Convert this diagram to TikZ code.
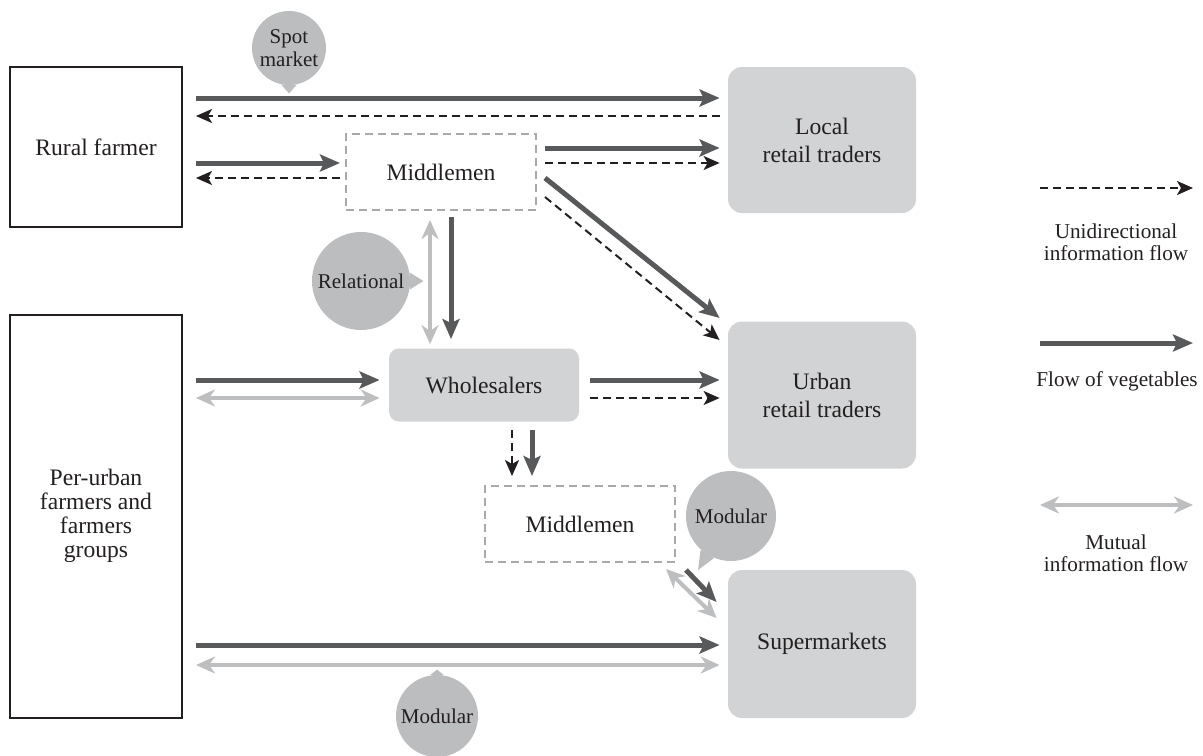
\documentclass[tikz,border=0pt]{standalone}
\usepackage{fontspec}
\setmainfont{Liberation Serif}
\usetikzlibrary{arrows.meta, positioning, calc}
\definecolor{vegdark}{RGB}{88,89,91}
\definecolor{infolight}{RGB}{188,190,192}
\definecolor{boxgray}{RGB}{209,211,212}
\definecolor{bubblegray}{RGB}{187,189,191}
\definecolor{framegray}{RGB}{167,169,172}
\definecolor{inkblack}{RGB}{35,31,32}

\begin{document}
\begin{tikzpicture}[
    x=0.5pt, y=-0.5pt,
    farmer/.style={rectangle, draw=inkblack, line width=1pt, fill=white, minimum width=86pt,
                   align=center, text=inkblack, font=\fontsize{11.8}{12}\selectfont},
    trader/.style={rectangle, fill=boxgray, rounded corners=7pt, minimum width=94pt, minimum height=73.5pt,
                   align=center, text=inkblack, font=\fontsize{11.8}{14}\selectfont},
    agent/.style={rectangle, draw=framegray, dash pattern=on 4pt off 2.5pt, line width=1pt,
                  minimum width=95pt, minimum height=38pt, text=inkblack, font=\fontsize{11.8}{14}\selectfont},
    bubble/.style={circle, fill=bubblegray, inner sep=0pt, align=center, text=inkblack,
                   font=\fontsize{10.5}{11.5}\selectfont},
    legend/.style={align=center, text=inkblack, font=\fontsize{10.6}{11}\selectfont},
    veg/.style={draw=vegdark, line width=2.5pt, -{Stealth[length=10pt, width=8.5pt, inset=2pt]}},
    info/.style={draw=inkblack, line width=1pt, dash pattern=on 4pt off 2.5pt,
                 -{Stealth[length=8pt, width=7pt, inset=2pt]}},
    mutual/.style={draw=infolight, line width=2pt,
                   {Stealth[length=9.5pt, width=8.5pt, inset=3pt]}-{Stealth[length=9.5pt, width=8.5pt, inset=3pt]}}
]
    \useasboundingbox (0,0) rectangle (1203,755);

    \node[farmer, minimum height=80pt] (rural) at (96,147) {Rural farmer};
    \node[farmer, minimum height=201.5pt] (perurban) at (96,516) {Per-urban\\farmers and\\farmers\\groups};

    \node[trader, minimum height=73pt] (local) at (822,140) {Local\\retail traders};
    \node[trader] (urban) at (822,395) {Urban\\retail traders};
    \node[trader, minimum height=74pt] (super) at (822,644) {Supermarkets};

    \node[agent] (midA) at (441,172) {Middlemen};
    \node[trader, rounded corners=5pt, minimum width=95pt, minimum height=36.5pt] (whole) at (484,385) {Wholesalers};
    \node[agent] (midB) at (580,524) {Middlemen};

    \node[bubble, minimum size=37pt] (spot) at (289,48) {Spot\\market};
    \fill[bubblegray] (spot.258) -- ($(spot.south)+(0,8)$) -- (spot.282) -- cycle;
    \node[bubble, minimum size=49pt] (relational) at (361,281) {Relational};
    \fill[bubblegray] (relational.10) -- ($(relational.east)+(13,0)$) -- (relational.-10) -- cycle;
    \node[bubble, minimum size=45pt] (modA) at (731,516) {Modular};
    \fill[bubblegray] (modA.228) -- ($(modA.center)+(-33,54)$) -- (modA.248) -- cycle;
    \node[bubble, minimum size=41pt] (modB) at (437,716) {Modular};
    \fill[bubblegray] (modB.80) -- ($(modB.north)+(0,-5)$) -- (modB.100) -- cycle;

    \draw[veg] ($(rural.east)+(13,-49)$) -- ($(local.west)+(-8,-42)$);
    \draw[info] ($(local.west)+(-8,-24)$) -- ($(rural.east)+(13,-31)$);
    \draw[veg] ($(rural.east)+(13,16)$) -- ($(midA.west)+(-5,-9)$);
    \draw[info] ($(midA.west)+(-5,6)$) -- ($(rural.east)+(13,31)$);
    \draw[veg] ($(midA.east)+(8,-24)$) -- ($(local.west)+(-8,8)$);
    \draw[info] ($(midA.east)+(8,-9)$) -- ($(local.west)+(-8,23)$);
    \draw[veg] ($(midA.east)+(8,6)$) -- ($(urban.west)+(-8,-77)$);
    \draw[info] ($(midA.east)+(8,25)$) -- ($(urban.west)+(-8,-55)$);

    \draw[mutual] ($(midA.south)+(-11,9)$) -- ($(whole.north)+(-54,-4)$);
    \draw[veg] ($(midA.south)+(10,6)$) -- ($(whole.north)+(-33,-9)$);

    \draw[veg] ($(perurban.east)+(13,-136)$) -- ($(whole.west)+(-9,-5)$);
    \draw[mutual] ($(perurban.east)+(13,-118)$) -- ($(whole.west)+(-9,13)$);
    \draw[veg] ($(whole.east)+(11,-5)$) -- ($(urban.west)+(-8,-15)$);
    \draw[info] ($(whole.east)+(11,13)$) -- ($(urban.west)+(-8,3)$);

    \draw[info] ($(whole.south)+(28,8)$) -- ($(midB.north)+(-68,-9)$);
    \draw[veg] ($(whole.south)+(48,8)$) -- ($(midB.north)+(-48,-9)$);
    \draw[veg] ($(midB.south east)+(10,7)$) -- ($(super.west)+(-11,-42)$);
    \draw[mutual] ($(midB.south east)+(-10,6)$) -- ($(super.west)+(-11,-26)$);

    \draw[veg] ($(perurban.east)+(13,129)$) -- ($(super.west)+(-8,1)$);
    \draw[mutual] ($(perurban.east)+(13,149)$) -- ($(super.west)+(-8,21)$);

    \coordinate (infoA) at (1040,188);
    \coordinate (infoB) at (1193,188);
    \draw[info] (infoA) -- (infoB);
    \node[legend] (infotext) at (1116,242) {Unidirectional\\information flow};
    \coordinate (vegA) at (1040,343);
    \coordinate (vegB) at (1193,343);
    \draw[veg] (vegA) -- (vegB);
    \node[legend] (vegtext) at (1117,381) {Flow of vegetables};
    \coordinate (mutualA) at (1040,505);
    \coordinate (mutualB) at (1193,505);
    \draw[mutual] (mutualA) -- (mutualB);
    \node[legend] (mutualtext) at (1116,553) {Mutual\\information flow};
\end{tikzpicture}
\end{document}
